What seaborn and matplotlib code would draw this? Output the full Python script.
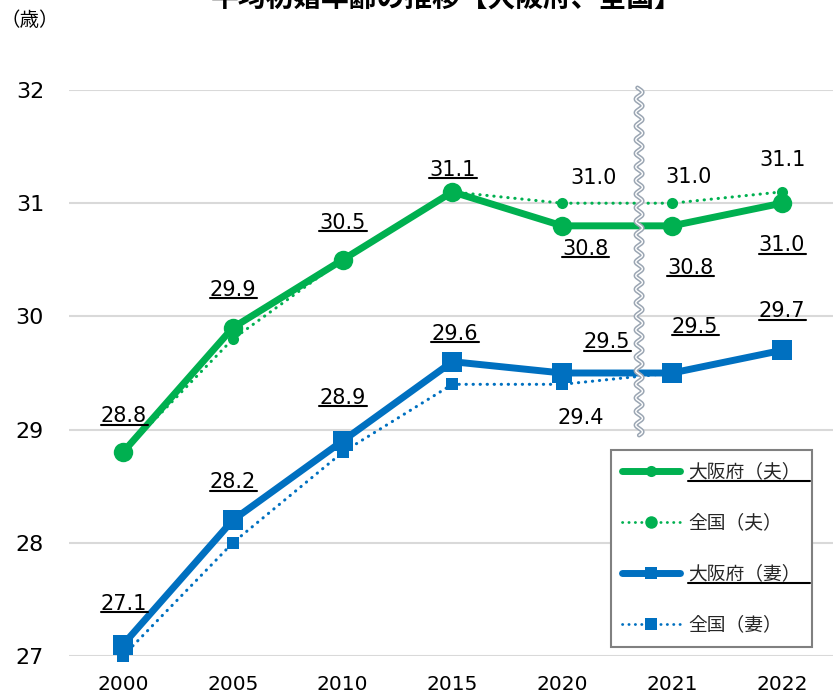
import numpy as np
import matplotlib.pyplot as plt
import seaborn as sns
from matplotlib.lines import Line2D

# data
years = ['2000', '2005', '2010', '2015', '2020', '2021', '2022']
osaka_husband = [28.8, 29.9, 30.5, 31.1, 30.8, 30.8, 31.0]
japan_husband = [28.8, 29.8, 30.5, 31.1, 31.0, 31.0, 31.1]
osaka_wife = [27.1, 28.2, 28.9, 29.6, 29.5, 29.5, 29.7]
japan_wife = [27.0, 28.0, 28.8, 29.4, 29.4, 29.5, 29.7]
y_ticks = [27, 28, 29, 30, 31, 32]
series_names = ['大阪府（夫）', '全国（夫）', '大阪府（妻）', '全国（妻）']
title = '平均初婚年齢の推移【大阪府、全国】'
unit = '（歳）'

# label offsets in pixels (dx, dy) from each point
oh_off = [(1, 36), (0, 38), (0, 37), (0, 22), (23, -23), (18, -42), (0, -42)]
jh_off = {4: (31, 25), 5: (17, 26), 6: (1, 32)}
ow_off = [(1, 41), (0, 38), (0, 43), (2, 28), (45, 31), (23, 46), (0, 39)]
jw_off = {4: (19, -34)}

green = '#00B050'
blue = '#0070C0'
dot = (0, (0.1, 2.2))

sns.set_theme(style='white')
plt.rcParams['font.family'] = ['DejaVu Sans', 'Noto Sans CJK JP']

fig = plt.figure(figsize=(8.33, 6.95), dpi=100)
ax = fig.add_axes([69 / 833, 39 / 695, 764 / 833, 566 / 695])
x = np.arange(len(years))

sns.lineplot(x=x, y=japan_husband, ax=ax, color=green, lw=2.2, linestyle=dot,
             dash_capstyle='round', marker='o', markersize=8, markeredgewidth=0,
             clip_on=False, zorder=3)
sns.lineplot(x=x, y=osaka_husband, ax=ax, color=green, lw=5, marker='o',
             markersize=14, markeredgewidth=0, clip_on=False, zorder=4)
sns.lineplot(x=x, y=japan_wife, ax=ax, color=blue, lw=2.2, linestyle=dot,
             dash_capstyle='round', marker='s', markersize=8.5, markeredgewidth=0,
             clip_on=False, zorder=3)
sns.lineplot(x=x, y=osaka_wife, ax=ax, color=blue, lw=5, marker='s',
             markersize=14, markeredgewidth=0, clip_on=False, zorder=4)

ax.set_xlim(-0.492, 6.466)
ax.set_ylim(27, 32)
ax.set_yticks(y_ticks)
ax.set_xticks(x, labels=years)
ax.set_xlabel('')
ax.set_ylabel('')
ax.set_axisbelow(True)
ax.yaxis.grid(True, color='#d9d9d9', lw=1.5)
ax.xaxis.grid(False)
for s in ax.spines.values():
    s.set_visible(False)
ax.tick_params(axis='y', length=0, pad=18, labelsize=16, labelcolor='black')
ax.tick_params(axis='x', length=0, pad=14, labelsize=14.5, labelcolor='black')

# broken-axis wave between 2020 and 2021
wy = np.linspace(28.95, 32.02, 800)
wx = 4.7 + 0.03 * np.sin(2 * np.pi * (wy - 28.95) / 0.12)
ax.plot(wx, wy, color='#9ba6b3', lw=3.2, clip_on=False, zorder=6)
ax.plot(wx, wy, color='white', lw=1.0, clip_on=False, zorder=7)

underlined = []


def add_label(i, v, off, under):
    t = ax.annotate(f'{v:.1f}', (i, v), xytext=off, textcoords='offset pixels',
                    ha='center', va='center', fontsize=15, color='black',
                    family='DejaVu Sans', zorder=8)
    if under:
        underlined.append(t)


for i, v in enumerate(osaka_husband):
    add_label(i, v, oh_off[i], True)
for i, off in jh_off.items():
    add_label(i, japan_husband[i], off, False)
for i, v in enumerate(osaka_wife):
    add_label(i, v, ow_off[i], True)
for i, off in jw_off.items():
    add_label(i, japan_wife[i], off, False)

handles = [
    Line2D([], [], color=green, lw=5, marker='o', ms=8, mew=0, solid_capstyle='round'),
    Line2D([], [], color=green, lw=2, ls=dot, dash_capstyle='round', marker='o', ms=9, mew=0),
    Line2D([], [], color=blue, lw=5, marker='s', ms=8, mew=0, solid_capstyle='round'),
    Line2D([], [], color=blue, lw=2, ls=dot, dash_capstyle='round', marker='s', ms=8, mew=0),
]
leg = ax.legend(handles, series_names, loc='upper left',
                bbox_to_anchor=(611 / 833, 1 - 450 / 695), bbox_transform=fig.transFigure,
                prop={'family': 'Noto Sans CJK JP', 'size': 13.5},
                handlelength=3.1, handletextpad=0.4, labelspacing=1.6,
                borderpad=0.6, borderaxespad=0, frameon=True, fancybox=False,
                edgecolor='#808080', framealpha=1)
leg.get_frame().set_linewidth(1.5)

fig.text(447 / 833, 1 - 7 / 695, title, ha='center', va='baseline', fontsize=20,
         fontweight='bold', family='Noto Sans CJK JP', color='black')
fig.text(30 / 833, 1 - 21 / 695, unit, ha='center', va='center', fontsize=14,
         family='Noto Sans CJK JP', color='black')

# underlines drawn after layout is known
fig.canvas.draw()
renderer = fig.canvas.get_renderer()
inv = fig.transFigure.inverted()


def underline(x0, x1, y):
    (fx0, fy), (fx1, _) = inv.transform([(x0, y), (x1, y)])
    fig.add_artist(Line2D([fx0, fx1], [fy, fy], color='black', lw=1.5,
                          transform=fig.transFigure, zorder=9))


for t in underlined:
    bb = t.get_window_extent(renderer)
    underline(bb.x0, bb.x1 + 1, bb.y0 + 1.5)

frame_bb = leg.get_frame().get_window_extent(renderer)
for k in (0, 2):
    bb = leg.get_texts()[k].get_window_extent(renderer)
    underline(bb.x0, frame_bb.x1 - 2, bb.y0 + 1)

fig.savefig('out.png', dpi=100)
